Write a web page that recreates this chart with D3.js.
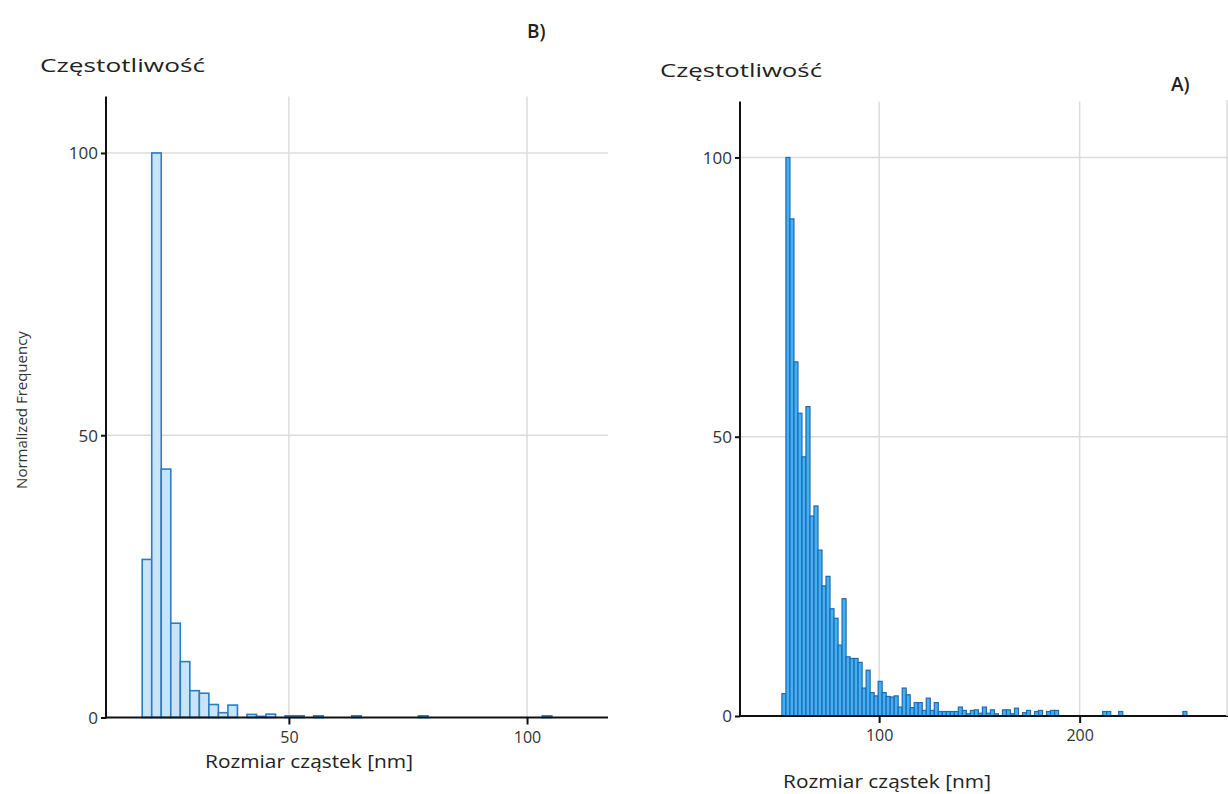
<!DOCTYPE html>
<html lang="pl">
<head>
<meta charset="UTF-8">
<title>Rozmiar cząstek</title>
<style>
  body { margin: 0; background: #fff; }
  svg { display: block; }
</style>
</head>
<body>
<svg width="1228" height="794"></svg>
<script src="https://d3js.org/d3.v7.min.js"></script>
<script>

    // panel B (left): bins of 2 nm starting at 19.2 nm
    var binStartB = 19.2, binWidthB = 2;
    var valuesB = [28, 100, 44, 16.7, 9.9, 4.75, 4.3, 2.3, 0.85, 2.2,
                   0, 0.55, 0.2, 0.6, 0, 0.3, 0.3, 0, 0.3, 0,
                   0, 0, 0.3, 0, 0, 0, 0, 0, 0, 0.3,
                   0, 0, 0, 0, 0, 0, 0, 0, 0, 0,
                   0, 0, 0.3];
    var xTicksB = [50, 100];

    // panel A (right): bins of 2 nm starting at 51.5 nm
    var binStartA = 51.5, binWidthA = 2;
    var valuesA = [4.0, 100, 89, 63.4, 54.2, 46.4, 55.4, 35.8, 37.6, 29.7,
                   23.3, 25, 19.2, 17.5, 12.7, 21, 10.6, 10.3, 10.3, 9.6,
                   5, 8.2, 4.2, 3.6, 6.2, 4.2, 3.5, 3.4, 3.6, 1.6,
                   5.0, 3.8, 1.5, 2.4, 2.4, 1.0, 3.2, 1.0, 2.4, 0.8,
                   0.8, 0.8, 0.8, 0.8, 1.6, 1.0, 0.4, 1.0, 1.1, 0.5,
                   1.6, 0.5, 1.1, 0.4, 0, 1.1, 1.1, 0.4, 1.4, 0,
                   0.6, 1.0, 0, 0.8, 1.0, 0, 0.8, 1.0, 1.0, 0,
                   0, 0, 0, 0, 0, 0, 0, 0, 0, 0,
                   0.8, 0.8, 0, 0, 0.8, 0, 0, 0, 0, 0,
                   0, 0, 0, 0, 0, 0, 0, 0, 0, 0,
                   0.8];
    var xTicksA = [100, 200];

    var yTicks = [0, 50, 100];

    var svg = d3.select("svg");

    function panel(opt) {
        var x = d3.scaleLinear().domain(opt.xDomain).range(opt.xRange);
        var y = d3.scaleLinear().domain([0, 110]).range(opt.yRange);
        var g = svg.append("g");

        // grid
        g.selectAll(".gx").data(opt.xTicks).enter().append("line")
            .attr("x1", x).attr("x2", x)
            .attr("y1", y(110)).attr("y2", y(0))
            .attr("stroke", "#dcdcdc").attr("stroke-width", 1.5);
        g.selectAll(".gy").data([50, 100]).enter().append("line")
            .attr("x1", opt.xRange[0]).attr("x2", opt.xRange[1])
            .attr("y1", y).attr("y2", y)
            .attr("stroke", "#dcdcdc").attr("stroke-width", 1.5);

        // bars
        var bars = opt.values.map(function(v, i) {
            return { x0: opt.binStart + i * opt.binWidth, x1: opt.binStart + (i + 1) * opt.binWidth, v: v };
        }).filter(function(d) { return d.v > 0; });

        g.selectAll("rect").data(bars).enter().append("rect")
            .attr("x", function(d) { return x(d.x0); })
            .attr("width", function(d) { return x(d.x1) - x(d.x0); })
            .attr("y", function(d) { return y(d.v); })
            .attr("height", function(d) { return y(0) - y(d.v); })
            .attr("fill", opt.fill)
            .attr("stroke", opt.stroke)
            .attr("stroke-width", opt.strokeWidth);

        // axes
        var ya = g.append("g").attr("transform", "translate(" + opt.xRange[0] + ",0)")
            .call(d3.axisLeft(y).tickValues(yTicks).tickSize(5).tickPadding(3));
        var xa = g.append("g").attr("transform", "translate(0," + y(0) + ")")
            .call(d3.axisBottom(x).tickValues(opt.xTicks).tickSize(7).tickPadding(7));
        [ya, xa].forEach(function(a) {
            a.select(".domain").remove();
            a.selectAll(".tick line").attr("stroke", "#111").attr("stroke-width", 2);
            a.selectAll(".tick text").attr("fill", "#333")
                .style("font-family", "'Open Sans', 'Noto Sans', sans-serif")
                .style("font-size", "16px");
        });
        ya.selectAll(".tick text").attr("dy", "0.35em").style("font-size", "17px");

        g.append("line")
            .attr("x1", opt.xRange[0]).attr("x2", opt.xRange[0])
            .attr("y1", y(110)).attr("y2", y(0) + 1)
            .attr("stroke", "#111").attr("stroke-width", 2);
        g.append("line")
            .attr("x1", opt.xRange[0]).attr("x2", opt.xRange[1])
            .attr("y1", y(0)).attr("y2", y(0))
            .attr("stroke", "#111").attr("stroke-width", 2);

        return g;
    }

    panel({
        xDomain: [11.6, 117], xRange: [106, 608], yRange: [717.5, 96.5],
        xTicks: xTicksB, values: valuesB, binStart: binStartB, binWidth: binWidthB,
        fill: "#c9e4f8", stroke: "#2a7cc4", strokeWidth: 1.6
    });
    panel({
        xDomain: [30.6, 274], xRange: [740, 1228], yRange: [716, 101.6],
        xTicks: xTicksA, values: valuesA, binStart: binStartA, binWidth: binWidthA,
        fill: "#45b0f0", stroke: "#1a6ab5", strokeWidth: 1.2
    });

    // right frame edge
    svg.append("line").attr("x1", 1227).attr("x2", 1227).attr("y1", 100).attr("y2", 716)
        .attr("stroke", "#dcdcdc").attr("stroke-width", 1.5);

    // texts
    var titleFont = "'Open Sans', 'Noto Sans', sans-serif";
    function label(txt, x, y, size, len, weight) {
        var t = svg.append("text").attr("x", x).attr("y", y).text(txt)
            .attr("fill", "#222")
            .style("font-family", titleFont)
            .style("font-size", size + "px")
            .style("font-weight", weight || "normal");
        if (len) t.attr("textLength", len).attr("lengthAdjust", "spacingAndGlyphs");
        return t;
    }
    label("Częstotliwość", 40, 72, 19, 165);
    label("Częstotliwość", 660, 77, 19, 162);
    label("B)", 527, 38, 19, 0, "600");
    label("A)", 1171, 91, 19, 0, "600");
    label("Rozmiar cząstek [nm]", 205, 768, 18, 208);
    label("Rozmiar cząstek [nm]", 783, 788, 18, 208);

    svg.append("text")
        .attr("transform", "translate(27,410) rotate(-90)")
        .attr("text-anchor", "middle")
        .attr("fill", "#333")
        .style("font-family", "'Open Sans', 'Noto Sans', sans-serif")
        .style("font-size", "15px")
        .text("Normalized Frequency");

</script>
</body>
</html>
